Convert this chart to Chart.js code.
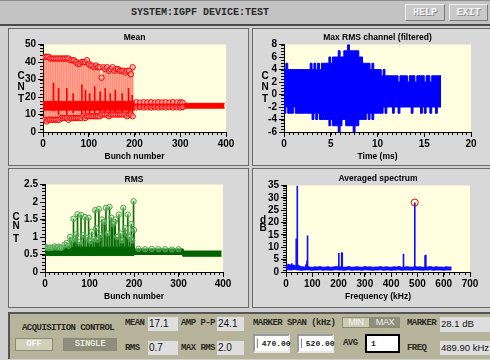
<!DOCTYPE html>
<html>
<head>
<meta charset="utf-8">
<script src="https://cdn.jsdelivr.net/npm/chart.js@4.4.1/dist/chart.umd.min.js"></script>
<style>
html,body{margin:0;padding:0}
body{width:490px;height:360px;overflow:hidden;position:relative;background:#d0d0d0;font-family:"Liberation Sans",Arial,sans-serif}
.a{position:absolute;box-sizing:border-box}
.mono{font-family:"Liberation Mono","DejaVu Sans Mono",monospace;font-weight:bold}
#bar{left:0;top:0;width:490px;height:26px;background:#c3c3c3;border-top:1px solid #8c8c8c;border-bottom:2px solid #4a4a4a}
#ttl{left:0;top:1px;width:400px;text-align:center;line-height:23px;font-size:10px;color:#2a2a2a;white-space:nowrap}
.btn{background:#c9c9c9;border:1px solid;border-color:#efefef #7a7a7a #7a7a7a #efefef;color:#f6f6f6;text-shadow:1px 1px 0 #8a8a8a;font-size:10px;text-align:center;line-height:15px}
.panel{background:#d8d8d8;border:1px solid #6a6a6a}
canvas{position:absolute}
.ax{position:absolute;width:10px;text-align:center;font-size:10px;font-weight:bold;line-height:10px;color:#000}
#ctl{left:8px;top:312px;width:482px;height:47px;background:#b6b59c;border-top:2px solid #555;border-left:2px solid #555}
.lbl{position:absolute;font-family:"Liberation Mono","DejaVu Sans Mono",monospace;font-weight:bold;font-size:9px;letter-spacing:-0.55px;line-height:10px;color:#2a2a20;white-space:nowrap}
.val{position:absolute;background:#dedede;font-size:10px;line-height:14px;padding-left:1px;color:#111;white-space:nowrap;overflow:hidden}
.obtn{position:absolute;text-align:center;font-family:"Liberation Mono","DejaVu Sans Mono",monospace;font-weight:bold;font-size:9px;letter-spacing:-0.3px;color:#f4f4ee;border:1px solid #8a8a78;box-sizing:border-box}
.inp{position:absolute;background:#fff;border:2px solid;border-color:#9a9a9a #e8e8e8 #e8e8e8 #9a9a9a;box-sizing:border-box;font-family:"Liberation Mono","DejaVu Sans Mono",monospace;font-size:8px;font-weight:bold;line-height:15px;padding-left:2px;color:#222}
</style>
</head>
<body>
<div class="a" id="bar"></div>
<div class="a mono" id="ttl">SYSTEM:IGPF DEVICE:TEST</div>
<div class="a mono btn" style="left:405px;top:4px;width:40px;height:17px">HELP</div>
<div class="a mono btn" style="left:449px;top:4px;width:39px;height:17px">EXIT</div>

<div class="a panel" style="left:8px;top:28px;width:241px;height:138px"></div>
<div class="a panel" style="left:252px;top:28px;width:240px;height:138px"></div>
<div class="a panel" style="left:8px;top:168px;width:241px;height:140px"></div>
<div class="a panel" style="left:252px;top:168px;width:240px;height:140px"></div>

<canvas id="c1" width="240" height="138" style="left:8px;top:28px"></canvas>
<canvas id="c2" width="238" height="138" style="left:252px;top:28px"></canvas>
<canvas id="c3" width="240" height="139" style="left:8px;top:168px"></canvas>
<canvas id="c4" width="238" height="139" style="left:252px;top:168px"></canvas>

<div class="ax" style="left:16px;top:71px">C</div>
<div class="ax" style="left:16px;top:82px">N</div>
<div class="ax" style="left:16px;top:94px">T</div>
<div class="ax" style="left:260px;top:71px">C</div>
<div class="ax" style="left:260px;top:82px">N</div>
<div class="ax" style="left:260px;top:94px">T</div>
<div class="ax" style="left:11px;top:212px">C</div>
<div class="ax" style="left:11px;top:221px">N</div>
<div class="ax" style="left:11px;top:234px">T</div>
<div class="ax" style="left:258px;top:215px">d</div>
<div class="ax" style="left:258px;top:223px">B</div>

<div class="a" id="ctl"></div>
<div class="lbl" style="left:22px;top:323px">ACQUISITION CONTROL</div>
<div class="obtn" style="left:15px;top:338px;width:38px;height:13px;line-height:11px;background:#d0cfb7">OFF</div>
<div class="obtn" style="left:63px;top:338px;width:54px;height:13px;line-height:11px;background:#8f8e7a;color:#e6e6dc">SINGLE</div>
<div class="lbl" style="left:125px;top:318px">MEAN</div>
<div class="val" style="left:148px;top:317px;width:29px;height:14px">17.1</div>
<div class="lbl" style="left:181px;top:318px">AMP P-P</div>
<div class="val" style="left:217px;top:317px;width:26px;height:14px">24.1</div>
<div class="lbl" style="left:125px;top:343px">RMS</div>
<div class="val" style="left:148px;top:341px;width:29px;height:14px">0.7</div>
<div class="lbl" style="left:181px;top:343px">MAX RMS</div>
<div class="val" style="left:217px;top:341px;width:26px;height:14px">2.0</div>
<div class="lbl" style="left:253px;top:318px">MARKER SPAN (kHz)</div>
<div class="obtn" style="left:342px;top:317px;width:28px;height:11px;line-height:9px;background:#cccbb3;font-family:'Liberation Sans',Arial,sans-serif;font-weight:normal">MIN</div>
<div class="obtn" style="left:370px;top:317px;width:30px;height:11px;line-height:9px;background:#8f8e7a;font-family:'Liberation Sans',Arial,sans-serif;font-weight:normal">MAX</div>
<div class="lbl" style="left:407px;top:318px">MARKER</div>
<div class="val" style="left:440px;top:317px;width:50px;height:15px;font-size:9.5px">28.1 dB</div>
<div class="inp" style="left:253px;top:334px;width:37px;height:19px">&#x258F;470.00</div>
<div class="inp" style="left:297px;top:334px;width:37px;height:19px">&#x258F;520.00</div>
<div class="lbl" style="left:343px;top:338px">AVG</div>
<div class="inp" style="left:365px;top:334px;width:35px;height:19px;border:2px solid #000;padding-left:4px">1</div>
<div class="lbl" style="left:407px;top:343px">FREQ</div>
<div class="val" style="left:440px;top:341px;width:50px;height:14px;font-size:9.5px">489.90 kHz</div>

<script>
// ---------------- DATA ----------------
// Mean per bunch (CNT)
const meanStemBunch = [0,4,8,12,16,20,24,28,32,36,40,44,48,52,56,60,64,68,72,76,80,84,88,92,96,100,104,108,112,116,120,124,128,132,136,140,144,148,152,156,160,164,168,172,176,180,184,188,192,196];
const meanStemHigh = [43,43,43,43,42,42,42,42,42,42,42,42,42,42,42,41,41,41,40,39,39,40,40,40,41,39,38,38,37,38,37,37,31,37,36,37,35,36,37,35,36,36,35,35,35,34,35,35,33,37];
const meanStemLow = [7,7,6,7,7,7,7,7,7,7,8,8,8,8,7,8,8,8,8,8,8,8,9,8,9,9,9,9,9,9,9,9,10,10,10,10,9,10,10,10,10,10,10,10,10,10,9,10,10,9];
const meanInnerBunch = [23,34,52,66,85,93,102,113,125,136,147,158,173,187,195];
const meanInnerLow = [12,10,10,11,10,11,11,10,11,10,11,11,10,11,11];
const meanInnerHigh = [28,25,25,22,27,24,22,26,23,25,22,24,22,25,21];
const meanBandBunch = [0,200,200,300,300,397];
const meanBandHigh = [17.5,17.5,16.2,16.2,16.4,16.4];
const meanBandLow = [12.5,12.5,13.6,13.6,13.6,13.6];
const meanMidBunch = [204,212,220,228,236,244,252,260,268,276,284,292,300,305];
const meanMidHigh = [17,16.8,17,16.9,17,16.8,17,16.9,17,16.8,17,16.9,17,16.8];
const meanMidLow = [14,14.2,14,14.1,14,14.2,14,14.1,14,14.2,14,14.1,14,14.2];

// Max RMS channel (filtered), envelope per 0.2 ms
const timeMs = [0,0.2,0.4,0.6,0.8,1,1.2,1.4,1.6,1.8,2,2.2,2.4,2.6,2.8,3,3.2,3.4,3.6,3.8,4,4.2,4.4,4.6,4.8,5,5.2,5.4,5.6,5.8,6,6.2,6.4,6.6,6.8,7,7.2,7.4,7.6,7.8,8,8.2,8.4,8.6,8.8,9,9.2,9.4,9.6,9.8,10,10.2,10.4,10.6,10.8,11,11.2,11.4,11.6,11.8,12,12.2,12.4,12.6,12.8,13,13.2,13.4,13.6,13.8,14,14.2,14.4,14.6,14.8,15,15.2,15.4,15.6,15.8,16,16.2,16.4,16.6,16.8];
const timeUpper = [4,4,5,4,4,4,4,4,4,4, 4,4,4,4,4,5,4,5,4,5, 4,5,5,5,5,6,5,6,6,6, 7,6,6,7,7,8,7,7,7,7, 7,6,6,5,5,5,5,4,5,4, 4,4,4,3,4,3,3,3,3,3, 3,3,2,3,3,3,3,2,3,3, 3,2,3,3,3,3,2,3,3,2, 3,3,3,3,3];
const timeLower = [-3,-3,-2,-3,-3,-3,-2,-3,-3,-3, -3,-3,-3,-3,-3,-3,-4,-3,-4,-3, -4,-4,-4,-4,-4,-5,-4,-5,-5,-5, -6,-5,-4,-4,-5,-5,-5,-5,-6,-5, -5,-4,-4,-4,-4,-3,-4,-3,-4,-3, -3,-3,-3,-3,-2,-3,-2,-2,-2,-3, -2,-2,-3,-2,-2,-2,-2,-2,-2,-3, -2,-2,-2,-2,-3,-2,-3,-2,-2,-3, -2,-2,-3,-2,-2];

// RMS per bunch (CNT)
const rmsBandBunch = [0,200,200,310,310,397];
const rmsBandHigh = [0.71,0.71,0.66,0.66,0.60,0.60];
const rmsBandLow = [0.47,0.47,0.50,0.50,0.45,0.45];
const rmsStemBase = 0.55;
const rmsStemBunch = [0,4,8,12,17,22,26,30,34,38,44,49,53,56,60,64,67,70,73,77,81,86,90,95,98,102,105,109,113,115,118,121,124,128,133,137,141,145,149,152,156,158,162,166,170,173,176,180,184,186,190,194,196,199,200,210,225,240,255,270,285,300];
const rmsStemValue = [0.72,0.70,0.68,0.70,0.69,0.73,0.70,0.72,0.69,0.70,0.78,0.83,0.75,1.00,0.90,1.52,0.95,1.07,1.65,0.85,1.63,1.05,1.57,0.98,1.55,0.88,1.15,0.95,1.77,1.25,0.92,1.80,1.05,1.50,1.43,1.83,1.10,1.86,1.55,1.37,1.43,1.50,1.00,1.64,1.10,0.90,1.83,1.25,1.10,1.64,1.00,1.37,0.90,2.02,1.20,0.66,0.65,0.66,0.65,0.65,0.64,0.65];

// Averaged spectrum (dB)
const specFloorFreq = [0,10,20,30,40,50,60,70,80,90,100,110,120,130,140,150,160,170,180,190,200,210,220,230,240,250,260,270,280,290,300,310,320,330,340,350,360,370,380,390,400,410,420,430,440,450,460,470,480,490,500,510,520,530,540,550,560,570,580,590,600,610,620,630];
const specFloorHigh = [2.4,2.9,2.6,2.8,2.3,2.5,2.1,2.0,2.3,2.0, 1.9,2.1,2.0,2.2,1.9,2.0,2.1,1.9,2.0,2.2, 2.0,2.1,1.9,2.0,2.2,1.9,2.0,2.1,2.0,1.9, 2.2,2.0,2.1,1.9,2.0,2.0,2.2,1.9,2.1,2.0, 1.9,2.1,2.0,2.2,1.9,2.0,2.1,2.0,1.9,2.2, 2.0,2.1,1.9,2.0,2.0,2.2,1.9,2.1,2.0,2.0, 1.9,2.1,2.0,2.0];
const specFloorLow = [0.8,0.9,0.8,1.0,0.9,0.8,0.7,0.8,0.9,0.8, 0.7,0.8,0.8,0.9,0.7,0.8,0.8,0.7,0.8,0.9, 0.8,0.8,0.7,0.8,0.9,0.7,0.8,0.8,0.8,0.7, 0.9,0.8,0.8,0.7,0.8,0.8,0.9,0.7,0.8,0.8, 0.7,0.8,0.8,0.9,0.7,0.8,0.8,0.8,0.7,0.9, 0.8,0.8,0.7,0.8,0.8,0.9,0.7,0.8,0.8,0.8, 0.7,0.8,0.8,0.8];
const specPeakFreq = [8,15,22,39,43,46,76,80,82,201,212,214,447,490,529,532];
const specPeakDb = [3.2,3.0,3.4,13.4,34.8,2.8,3.0,4.5,14.6,7.6,7.9,7.7,7.3,28.0,6.6,6.8];
const specPeakBase = 1.0;
const markerFreq = [489.9];
const markerDb = [28.1];

// ---------------- RENDER ----------------
const F = '"Liberation Sans", Arial, sans-serif';
const plotBg = {id:'plotBg', beforeDraw(c){const a=c.chartArea, x=c.ctx; x.save(); x.fillStyle='#ffffe0'; x.fillRect(a.left,a.top,a.right-a.left,a.bottom-a.top); x.restore();}};
const minorTicks = {id:'minorTicks', afterDraw(c,args,o){
  const ctx=c.ctx, a=c.chartArea, sx=c.scales.x, sy=c.scales.y;
  ctx.save(); ctx.strokeStyle='#000'; ctx.lineWidth=1; ctx.beginPath();
  if(o.x){const n=Math.round((sx.max-sx.min)/o.x); for(let i=0;i<=n;i++){const p=Math.round(sx.getPixelForValue(sx.min+i*o.x))+0.5; ctx.moveTo(p,a.bottom); ctx.lineTo(p,a.bottom+3);}}
  if(o.y){const n=Math.round((sy.max-sy.min)/o.y); for(let i=0;i<=n;i++){const p=Math.round(sy.getPixelForValue(sy.min+i*o.y))+0.5; ctx.moveTo(a.left-3,p); ctx.lineTo(a.left,p);}}
  ctx.stroke(); ctx.restore();}};
Chart.register(plotBg, minorTicks);

const fmt = v => String(Math.round(v*100)/100);
function mkOpts(o){
  const tickFont={family:F,size:10,weight:'bold'};
  return {
    responsive:false, animation:false, devicePixelRatio:1,
    layout:{padding:{left:0,right:o.pr,top:0,bottom:0}},
    plugins:{legend:{display:false}, tooltip:{enabled:false},
      title:{display:true, fullSize:false, text:o.title, color:'#000', font:{family:F,size:8.5,weight:'bold',lineHeight:1}, padding:{top:o.tpt,bottom:o.tpb}},
      minorTicks:{x:o.xminor,y:o.yminor}},
    scales:{
      x:{type:'linear',min:o.xmin,max:o.xmax,offset:false,
        grid:{drawOnChartArea:false,drawTicks:true,tickLength:5,tickColor:'#000',offset:false},
        border:{display:true,color:'#000',width:1},
        ticks:{stepSize:o.xstep,autoSkip:false,maxRotation:0,color:'#000',font:tickFont,padding:1,callback:fmt},
        title:{display:true,text:o.xtitle,color:'#000',font:{family:F,size:8.5,weight:'bold',lineHeight:1},padding:{top:0,bottom:o.xtp}},
        afterFit(s){s.height=o.xh;}},
      y:{type:'linear',min:o.ymin,max:o.ymax,
        grid:{drawOnChartArea:false,drawTicks:true,tickLength:5,tickColor:'#000'},
        border:{display:true,color:'#000',width:1},
        ticks:{stepSize:o.ystep,autoSkip:false,color:'#000',font:tickFont,padding:2,callback:fmt},
        afterFit(s){s.width=o.pl;}}
    }
  };
}
const pts = (xs,ys) => xs.map((x,i)=>({x:x,y:ys[i]}));
const bars = (xs,lo,hi) => xs.map((x,i)=>({x:x,y:[Array.isArray(lo)?lo[i]:lo, hi[i]]}));

// Mean
new Chart(document.getElementById('c1'), {
  type:'scatter',
  data:{datasets:[
    {type:'scatter', data:pts(meanMidBunch,meanMidHigh).concat(pts(meanMidBunch,meanMidLow)), pointRadius:2.7, pointBorderWidth:1, pointBorderColor:'#ff0000', pointBackgroundColor:'rgba(255,150,150,0.5)', order:1},
    {type:'scatter', data:pts(meanStemBunch,meanStemHigh).concat(pts(meanStemBunch,meanStemLow)), pointRadius:2.7, pointBorderWidth:1, pointBorderColor:'#ff0000', pointBackgroundColor:'rgba(255,170,170,0.5)', order:2},
    {type:'line', data:pts(meanBandBunch,meanBandHigh), borderColor:'#ff0000', borderWidth:1, pointRadius:0, fill:false, order:3},
    {type:'line', data:pts(meanBandBunch,meanBandLow), borderColor:'#ff0000', borderWidth:1, pointRadius:0, fill:'-1', backgroundColor:'#ff0000', order:3},
    {type:'bar', data:bars(meanInnerBunch,meanInnerLow,meanInnerHigh), backgroundColor:'#ff0000', barThickness:1, grouped:false, order:4},
    {type:'bar', data:bars(meanStemBunch,meanStemLow,meanStemHigh), backgroundColor:'rgba(255,0,0,0.45)', barThickness:1, grouped:false, order:5}
  ]},
  options:mkOpts({title:'Mean',tpt:5.5,tpb:2.5,pr:22,pl:35,xh:34,xtp:5.5,xtitle:'Bunch number',xmin:0,xmax:400,xstep:100,xminor:10,ymin:0,ymax:50,ystep:10,yminor:2})
});

// Max RMS channel
new Chart(document.getElementById('c2'), {
  type:'scatter',
  data:{datasets:[
    {type:'line', data:pts(timeMs,timeUpper), stepped:'after', borderColor:'#0000ff', borderWidth:1, pointRadius:0, fill:false},
    {type:'line', data:pts(timeMs,timeLower), stepped:'after', borderColor:'#0000ff', borderWidth:1, pointRadius:0, fill:'-1', backgroundColor:'#0000ff'}
  ]},
  options:mkOpts({title:'Max RMS channel (filtered)',tpt:5.5,tpb:2.5,pr:19,pl:32,xh:34,xtp:5.5,xtitle:'Time (ms)',xmin:0,xmax:20,xstep:5,xminor:0.5,ymin:-6,ymax:8,ystep:2,yminor:0.5})
});

// RMS
new Chart(document.getElementById('c3'), {
  type:'scatter',
  data:{datasets:[
    {type:'scatter', data:pts(rmsStemBunch,rmsStemValue), pointRadius:2.7, pointBorderWidth:1, pointBorderColor:'#4fa34f', pointBackgroundColor:'rgba(160,220,160,0.35)', order:1},
    {type:'line', data:pts(rmsBandBunch,rmsBandHigh), borderColor:'#006400', borderWidth:1, pointRadius:0, fill:false, order:2},
    {type:'line', data:pts(rmsBandBunch,rmsBandLow), borderColor:'#006400', borderWidth:1, pointRadius:0, fill:'-1', backgroundColor:'#006400', order:2},
    {type:'bar', data:bars(rmsStemBunch,rmsStemBase,rmsStemValue), backgroundColor:'#087008', barThickness:1, grouped:false, order:3}
  ]},
  options:mkOpts({title:'RMS',tpt:7.5,tpb:0.5,pr:25,pl:37,xh:35,xtp:6.5,xtitle:'Bunch number',xmin:0,xmax:400,xstep:100,xminor:10,ymin:0,ymax:2.5,ystep:0.5,yminor:0.1})
});

// Averaged spectrum
new Chart(document.getElementById('c4'), {
  type:'scatter',
  data:{datasets:[
    {type:'scatter', data:pts(markerFreq,markerDb), pointRadius:3.5, pointBorderWidth:1, pointBorderColor:'#ff0000', pointBackgroundColor:'rgba(0,0,0,0)', order:1},
    {type:'line', data:pts(specFloorFreq,specFloorHigh), borderColor:'#1010ff', borderWidth:1, pointRadius:0, fill:false, order:2},
    {type:'line', data:pts(specFloorFreq,specFloorLow), borderColor:'#1010ff', borderWidth:1, pointRadius:0, fill:'-1', backgroundColor:'#1010ff', order:2},
    {type:'bar', data:bars(specPeakFreq,specPeakBase,specPeakDb), backgroundColor:'#1010ff', barThickness:1, grouped:false, order:3}
  ]},
  options:mkOpts({title:'Averaged spectrum',tpt:6.5,tpb:2.5,pr:20,pl:34,xh:35,xtp:5.8,xtitle:'Frequency (kHz)',xmin:0,xmax:700,xstep:100,xminor:20,ymin:0,ymax:35,ystep:5,yminor:1})
});
</script>
</body>
</html>
